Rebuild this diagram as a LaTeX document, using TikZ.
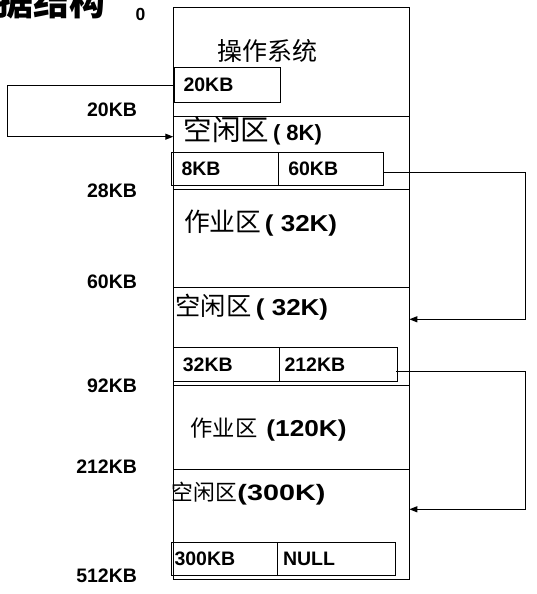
\documentclass[tikz,border=0pt]{standalone}
\usepackage{fontspec}
\setmainfont{Liberation Sans}
\newfontfamily\cjk{Noto Sans CJK SC}
\usetikzlibrary{arrows.meta}
\newcommand{\fs}[1]{\fontsize{#1}{#1}\selectfont}
\begin{document}
\begin{tikzpicture}[x=1pt,y=-1pt,line width=1.1pt,
  region/.style={draw,rectangle,inner sep=0pt,minimum width=236pt,anchor=north west},
  cell/.style={draw,rectangle,inner ysep=0pt,anchor=north west,align=left,font=\fs{19.5}\bfseries},
  addr/.style={inner sep=0pt,anchor=base east,font=\fs{19.5}\bfseries},
  lbl/.style={inner sep=0pt,anchor=base west},
  link/.style={-{Triangle[length=8pt,width=6pt]},line width=1.1pt}]
\fill[white] (0,0) rectangle (536,594);
\useasboundingbox (0,0) rectangle (536,594);
\clip (0,0) rectangle (536,594);
% title fragment
\node[inner sep=0pt,anchor=base east] (title) at (106,16) {\fs{36}\cjk\bfseries 数据结构};
% regions
\node[region,minimum height=109pt] (os) at (173.3,7.3) {};
\node[region,minimum height=73pt] (fr1) at (173.3,116.3) {};
\node[region,minimum height=98pt] (jb1) at (173.3,189.3) {};
\node[region,minimum height=97.7pt] (fr2) at (173.3,287.3) {};
\node[region,minimum height=84.3pt] (jb2) at (173.3,385) {};
\node[region,minimum height=110pt] (fr3) at (173.3,469.3) {};
% region texts
\node[lbl,anchor=center] (tos) at (267.3,51) {\fs{25}\cjk 操作系统};
\node[lbl] (t1) at (183,140.7) {{\fs{28.5}\cjk 空闲区}\hspace{4pt}{\fs{22}\bfseries ( 8K)}};
\node[lbl] (t2) at (183.5,231.7) {{\fs{25.8}\cjk 作业区}\hspace{3.5pt}{\fs{23}\bfseries\scalebox{1.13}[1]{( 32K)}}};
\node[lbl] (t3) at (175,315) {{\fs{25.3}\cjk 空闲区}\hspace{4.5pt}{\fs{23}\bfseries\scalebox{1.13}[1]{( 32K)}}};
\node[lbl] (t4) at (190,436.7) {{\fs{22.3}\cjk 作业区}\hspace{9pt}{\fs{23}\bfseries\scalebox{1.14}[1]{(120K)}}};
\node[lbl] (t5) at (171,500) {{\fs{21.8}\cjk 空闲区}\hspace{0.5pt}{\fs{22.3}\bfseries\scalebox{1.29}[1]{(300K)}}};
% cells
\node[cell,minimum height=35pt,inner xsep=8.7pt,text width=88.6pt] (c20) at (174.3,67) {20KB};
\node[cell,minimum height=33.6pt,inner xsep=9.7pt,text width=87pt] (c8) at (171.3,151.7) {8KB};
\node[cell,minimum height=33.6pt,inner xsep=10pt,text width=85.6pt] (c60) at (277.7,151.7) {60KB};
\node[cell,minimum height=33.7pt,inner xsep=9pt,text width=88pt] (c32) at (173.3,347.3) {32KB};
\node[cell,minimum height=33.7pt,inner xsep=4.7pt,text width=108.6pt] (c212) at (279.3,347.3) {212KB};
\node[cell,minimum height=33.3pt,inner xsep=3pt,text width=100.3pt] (c300) at (171,541.7) {300KB};
\node[cell,minimum height=33.3pt,inner xsep=5.2pt,text width=107.6pt] (cnull) at (277.3,541.7) {NULL};
% address labels
\node[addr,font=\fs{17.5}\bfseries] (a0) at (146,20.7) {0};
\node[addr] (a20) at (137.5,116.7) {20KB};
\node[addr] (a28) at (137.5,197.3) {28KB};
\node[addr] (a60) at (137.5,288.3) {60KB};
\node[addr] (a92) at (137.5,392.5) {92KB};
\node[addr] (a212) at (137.5,473.3) {212KB};
\node[addr] (a512) at (137.5,582.3) {512KB};
% connectors
\coordinate (railL) at (7.3,0);
\coordinate (railR) at (525.7,0);
\coordinate (in1) at (173.3,136.7);
\coordinate (in2) at (409.3,319.3);
\coordinate (in3) at (409.3,509.3);
\coordinate (o2) at ([yshift=-3.2pt]c60.east);
\coordinate (o3) at ([yshift=-6.5pt,xshift=-2pt]c212.east);
\draw[link] (c20.west) -- (c20.west -| railL) |- (in1);
\draw[link] (o2) -- (o2 -| railR) |- (in2);
\draw[link] (o3) -- (o3 -| railR) |- (in3);
\end{tikzpicture}
\end{document}
